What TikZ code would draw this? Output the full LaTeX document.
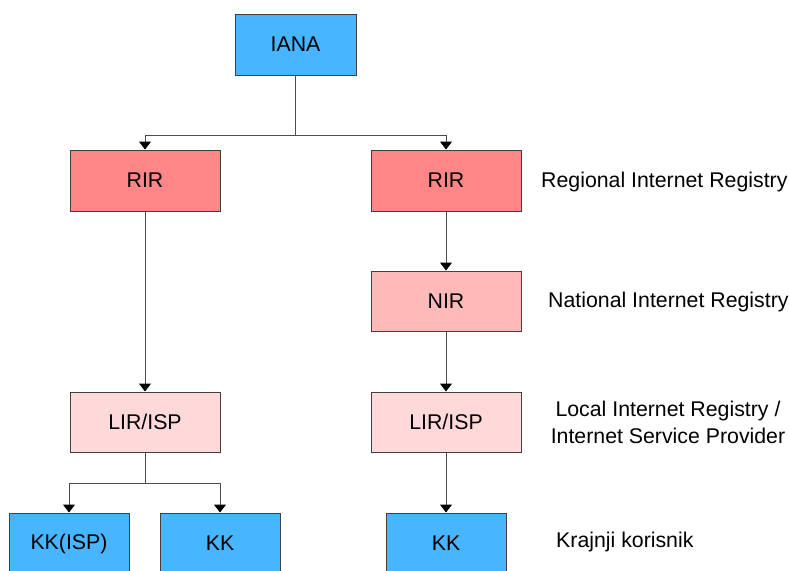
\documentclass[tikz,border=0pt]{standalone}
\usepackage{fontspec}
\setmainfont{Liberation Sans}
\usepackage{tikz}
\usetikzlibrary{
  arrows.meta,
  positioning
}
\definecolor{ianablue}{RGB}{71,181,255}
\definecolor{rirred}{RGB}{255,134,134}
\definecolor{nirpink}{RGB}{255,185,185}
\definecolor{lirpink}{RGB}{255,217,217}

\begin{document}
\begin{tikzpicture}[x=1pt,y=-1pt,
      registry/.style={
         rectangle,
         minimum width=150pt,
         minimum height=61pt,
         line width=1pt,
         draw=black!75,
         font=\fontsize{21.3}{25}\selectfont,
         %text height=1.5ex,
         %text depth=.25ex
      },
      enduser/.style={
         registry,
         minimum width=120pt,
         fill=ianablue
      },
      note/.style={
         inner sep=0pt,
         anchor=west,
         font=\fontsize{21.3}{27}\selectfont
      },
      link/.style={draw=black!70,line width=1pt},
      tip/.style={-{Triangle[width=12pt,length=8pt,color=black]}}
    ]
    \useasboundingbox (0,0) rectangle (789,570);
    % boxes
    \node (iana) [enduser, minimum width=121pt] at (295.5,44.5) {IANA};
    \node (rirL) [registry, fill=rirred] at (145,180.5) {RIR};
    \node (rirR) [registry, fill=rirred] at (446,180.5) {RIR};
    \node (nir)  [registry, fill=nirpink, minimum height=60pt] at (446,301) {NIR};
    \node (lirL) [registry, fill=lirpink, minimum height=60pt] at (145,422) {LIR/ISP};
    \node (lirR) [registry, fill=lirpink, minimum height=60pt] at (446,422) {LIR/ISP};
    \node (kkisp) [enduser] at (69,543.5) {KK(ISP)};
    \node (kkL)   [enduser] at (220,543.5) {KK};
    \node (kkR)   [enduser] at (446,543.5) {KK};
    % level notes
    \node (regional) [note] at (541,182) {Regional Internet Registry};
    \node (national) [note] at (548,302) {National Internet Registry};
    \node (local) [note, anchor=center, align=center] at (668,422)
       {Local Internet Registry /\\Internet Service Provider};
    \node (krajnji) [note] at (556,542) {Krajnji korisnik};
    % connectors
    \draw [link] (iana.south) -- ++(0,60) coordinate (top);
    \draw [link,tip] (top) -| (rirL.north);
    \draw [link,tip] (top) -| (rirR.north);
    \draw [link,tip] (rirL) -- (lirL);
    \draw [link,tip] (rirR) -- (nir);
    \draw [link,tip] (nir) -- (lirR);
    \draw [link,tip] (lirR) -- (kkR);
    \draw [link] (lirL.south) -- ++(0,31) coordinate (split);
    \draw [link,tip] (split) -| (kkisp.north);
    \draw [link,tip] (split) -| (kkL.north);
\end{tikzpicture}
\end{document}
